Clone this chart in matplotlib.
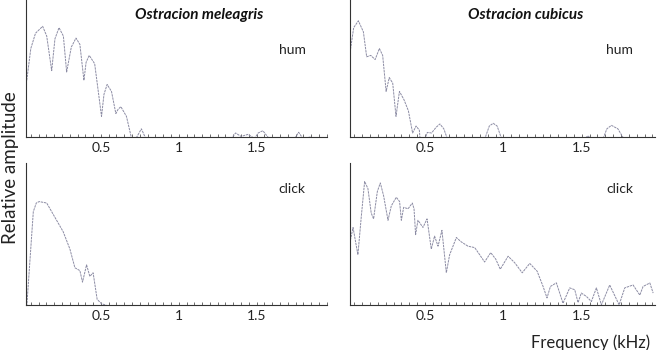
import matplotlib
matplotlib.use("Agg")
import matplotlib.pyplot as plt
import numpy as np
from matplotlib.ticker import MultipleLocator

plt.rcParams["font.family"] = ["Lato", "DejaVu Sans"]

# ---- data (kHz, relative amplitude 0..1) ----
mel_hum_f = [0.024, 0.05, 0.08, 0.126, 0.152, 0.184, 0.205, 0.231, 0.259, 0.28,
             0.31, 0.34, 0.365, 0.391, 0.405, 0.425, 0.46, 0.504, 0.52, 0.54,
             0.568, 0.596, 0.61, 0.628, 0.664, 0.697, 0.725, 0.76, 0.788,
             1.338, 1.365, 1.40, 1.445, 1.487, 1.51, 1.54, 1.58, 1.745, 1.77,
             1.797, 1.83, 1.84, 1.85]
mel_hum_a = [0.42, 0.65, 0.76, 0.81, 0.74, 0.49, 0.72, 0.80, 0.74, 0.48,
             0.66, 0.725, 0.68, 0.42, 0.55, 0.60, 0.54, 0.16, 0.32, 0.39,
             0.34, 0.18, 0.21, 0.23, 0.16, 0.0, 0.0, 0.07, 0.0,
             0.0, 0.04, 0.015, 0.03, 0.0, 0.04, 0.056, 0.0, 0.0, 0.045,
             0.0, 0.0, 0.015, 0.0]

cub_hum_f = [0.022, 0.045, 0.075, 0.107, 0.128, 0.154, 0.182, 0.209, 0.23,
             0.252, 0.272, 0.294, 0.315, 0.337, 0.366, 0.394, 0.421, 0.443,
             0.464, 0.468, 0.50, 0.515, 0.542, 0.57, 0.595, 0.62, 0.642,
             0.882, 0.91, 0.935, 0.96, 0.988, 1.519, 1.54, 1.555,
             1.636, 1.66, 1.689, 1.73, 1.767]
cub_hum_a = [0.62, 0.80, 0.85, 0.77, 0.59, 0.60, 0.57, 0.65, 0.60,
             0.34, 0.44, 0.40, 0.16, 0.34, 0.28, 0.20, 0.04, 0.09,
             0.06, 0.0, 0.0, 0.044, 0.04, 0.08, 0.105, 0.07, 0.0,
             0.0, 0.09, 0.11, 0.09, 0.0, 0.0, 0.02, 0.0,
             0.0, 0.07, 0.095, 0.07, 0.0]

mel_click_f = [0.024, 0.045, 0.066, 0.085, 0.104, 0.152, 0.205, 0.258, 0.301,
               0.333, 0.365, 0.382, 0.408, 0.429, 0.45, 0.476, 0.504, 0.532,
               0.547, 1.95]
mel_click_a = [0.0, 0.33, 0.66, 0.72, 0.73, 0.72, 0.62, 0.52, 0.40,
               0.27, 0.25, 0.17, 0.29, 0.21, 0.235, 0.05, 0.02, 0.01,
               0.0, 0.0]

cub_click_f = [0.024, 0.041, 0.072, 0.094, 0.115, 0.136, 0.157, 0.172, 0.196,
               0.215, 0.236, 0.264, 0.285, 0.317, 0.338, 0.349, 0.364, 0.392,
               0.419, 0.43, 0.44, 0.455, 0.487, 0.513, 0.54, 0.561, 0.583,
               0.608, 0.636, 0.657, 0.70, 0.731, 0.774, 0.817, 0.849, 0.88,
               0.919, 0.951, 0.98, 1.03, 1.072, 1.12, 1.168, 1.215, 1.253,
               1.278, 1.30, 1.338, 1.38, 1.423, 1.455, 1.476, 1.497, 1.53,
               1.561, 1.593, 1.625, 1.678, 1.738, 1.774, 1.827, 1.87, 1.891,
               1.934, 1.955]
cub_click_a = [0.46, 0.55, 0.36, 0.63, 0.87, 0.82, 0.65, 0.61, 0.80,
               0.86, 0.77, 0.60, 0.70, 0.76, 0.73, 0.60, 0.69, 0.68,
               0.72, 0.68, 0.50, 0.60, 0.55, 0.61, 0.40, 0.49, 0.42,
               0.53, 0.235, 0.36, 0.48, 0.45, 0.42, 0.41, 0.36, 0.31,
               0.375, 0.33, 0.26, 0.35, 0.305, 0.235, 0.30, 0.246, 0.14,
               0.06, 0.14, 0.165, 0.023, 0.13, 0.117, 0.028, 0.094, 0.07,
               0.035, 0.13, 0.012, 0.15, 0.012, 0.13, 0.15, 0.08, 0.14,
               0.164, 0.094]

panels = [
    # (rect, f, a, xlim, title, tag)
    ([0.0395, 0.609, 0.457, 0.391], mel_hum_f, mel_hum_a, (0.019, 1.95),
     "Ostracion meleagris", "hum"),
    ([0.532, 0.609, 0.463, 0.391], cub_hum_f, cub_hum_a, (0.022, 1.965),
     "Ostracion cubicus", "hum"),
    ([0.0395, 0.129, 0.457, 0.406], mel_click_f, mel_click_a, (0.019, 1.95),
     None, "click"),
    ([0.532, 0.129, 0.463, 0.406], cub_click_f, cub_click_a, (0.022, 1.965),
     None, "click"),
]

LINE = "#8c8ca4"
fig = plt.figure(figsize=(6.58, 3.5), dpi=100)

for rect, f, a, xl, title, tag in panels:
    ax = fig.add_axes(rect)
    ax.plot(f, a, color=LINE, lw=0.7, ls=(0, (2.5, 0.8)))
    ax.set_xlim(*xl)
    # tiny offset so the flat zero stretches hide under the axis line
    ax.set_ylim(0.012, 1)
    ax.set_yticks([])
    ax.xaxis.set_major_locator(MultipleLocator(0.5))
    ax.xaxis.set_minor_locator(MultipleLocator(0.05))
    ax.tick_params(axis="x", which="both", direction="in", length=2.5,
                   width=0.6, color="#555555", labelsize=10, pad=4,
                   labelcolor="#222222")
    for s in ("top", "right"):
        ax.spines[s].set_visible(False)
    for s in ("left", "bottom"):
        ax.spines[s].set_color("#333333")
        ax.spines[s].set_linewidth(0.8)
    ax.set_xticks([0.5, 1, 1.5])
    ax.set_xticklabels(["0.5", "1", "1.5"])
    ax.text(0.885, 0.635 if title else 0.817, tag, transform=ax.transAxes,
            ha="center", va="center", fontsize=10, color="#222222")
    if title:
        ax.text(0.575, 0.89, title, transform=ax.transAxes, ha="center",
                va="center", fontsize=11, fontweight="bold",
                fontstyle="italic", color="#111111")

fig.text(0.016, 0.52, "Relative amplitude", rotation=90, ha="center",
         va="center", fontsize=13.5, color="#222222")
fig.text(0.897, 0.02, "Frequency (kHz)", ha="center", va="center",
         fontsize=12, color="#222222")

fig.savefig("out.png", dpi=100)
